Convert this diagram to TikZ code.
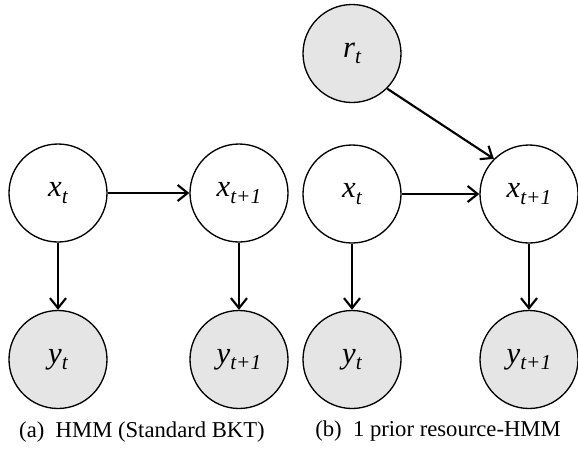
\documentclass[tikz,border=0pt]{standalone}
\usepackage{fontspec}
\setmainfont{Liberation Serif}[ItalicFont={Liberation Serif Italic}]
\usetikzlibrary{arrows.meta}
% variable label: italic letter with a lowered italic index
\newcommand{\varlab}[2]{{\fontsize{23}{23}\selectfont\itshape #1}\raisebox{-5pt}{\fontsize{16}{16}\selectfont\itshape #2}}
\tikzset{
  var/.style={circle, draw=black, line width=1pt, inner sep=0pt, minimum size=73.5pt, fill=white},
  obs/.style={var, fill=gray!20},
  edge/.style={line width=1.6pt, -{Straight Barb[length=7.5pt, width=12pt, line width=1.6pt]}},
  caption/.style={font=\fontsize{17}{17}\selectfont, anchor=center}
}
\begin{document}
\begin{tikzpicture}[x=0.75pt, y=-0.75pt]
\useasboundingbox (0,0) rectangle (578,451);
% (a) standard HMM
\node[var] (ax0) at (58,193) {\varlab{x}{t}};
\node[var] (ax1) at (239,193) {\varlab{x}{t+1}};
\node[obs] (ay0) at (58,359.5) {\varlab{y}{t}};
\node[obs] (ay1) at (239,359.5) {\varlab{y}{t+1}};
\draw[edge] (ax0) -- (ax1);
\draw[edge] (ax0) -- (ay0);
\draw[edge] (ax1) -- (ay1);
\node[caption] (capa) at (142,432) {(a)\ \ HMM (Standard BKT)};
% (b) HMM with one prior resource node
\node[obs] (br) at (352,53.5) {\varlab{r}{t}};
\node[var] (bx0) at (352,194) {\varlab{x}{t}};
\node[var] (bx1) at (529,194) {\varlab{x}{t+1}};
\node[obs] (by0) at (352,359.5) {\varlab{y}{t}};
\node[obs] (by1) at (529,359.5) {\varlab{y}{t+1}};
\draw[edge] (br.south east) -- (bx1.north west);
\draw[edge] (bx0) -- (bx1);
\draw[edge] (bx0) -- (by0);
\draw[edge] (bx1) -- (by1);
\node[caption] (capb) at (438,431) {(b)\ \ 1 prior resource-HMM};
\end{tikzpicture}
\end{document}
